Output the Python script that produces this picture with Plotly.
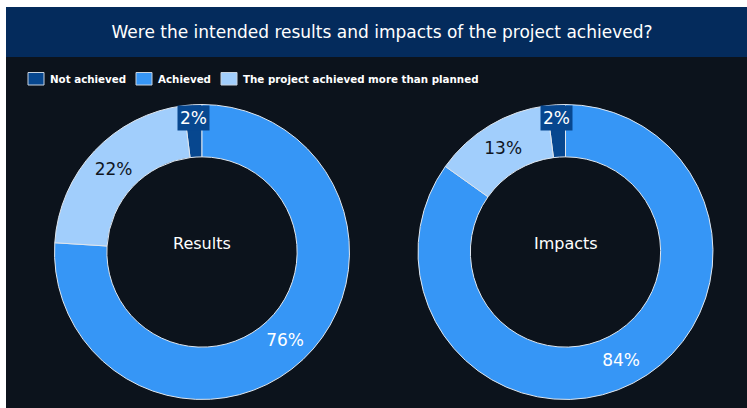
import plotly.graph_objects as go

# ---- data ----
categories = ["Not achieved", "Achieved", "The project achieved more than planned"]
pie_names = ["Results", "Impacts"]
results_values = [2, 76, 22]
impacts_values = [2, 84, 13]
title_text = "Were the intended results and impacts of the project achieved?"

# ---- styling ----
W, H = 747, 408
colors = ["#07478f", "#3696f6", "#a1cefc"]
text_colors = ["#ffffff", "#ffffff", "#10161f"]
header_color = "#042b5c"
panel_color = "#0c131c"
FONT = "DejaVu Sans"


def px(x):
    return x / W


def py(y):
    return 1 - y / H


def pie_domain(cx, cy, r):
    return dict(x=[px(cx - r), px(cx + r)], y=[py(cy + r), py(cy - r)])


centers = [(202, 252), (565.5, 252)]
radius = 147.5

fig = go.Figure()

for name, vals, (cx, cy) in zip(pie_names, [results_values, impacts_values], centers):
    total = sum(vals)
    fig.add_trace(go.Pie(
        labels=categories,
        values=vals,
        name=name,
        sort=False,
        direction="clockwise",
        rotation=-360 * vals[0] / total,
        hole=0.645,
        domain=pie_domain(cx, cy, radius),
        marker=dict(colors=colors, line=dict(color="#dfe6ee", width=1)),
        texttemplate=["", "%{value}%", "%{value}%"],
        textposition="inside",
        insidetextorientation="horizontal",
        textfont=dict(family=FONT, size=17, color=text_colors),
        hoverinfo="label+value",
        showlegend=False,
    ))
    # centre caption
    fig.add_annotation(
        x=px(cx), y=py(243), xref="paper", yref="paper",
        text=name, showarrow=False,
        font=dict(family=FONT, size=16, color="#ffffff"),
        xanchor="center", yanchor="middle",
    )
    # boxed label for the thin "Not achieved" slice
    fig.add_annotation(
        x=px(cx - 9), y=py(118), xref="paper", yref="paper",
        text=f"{vals[0]}%", showarrow=False,
        font=dict(family=FONT, size=17, color="#ffffff"),
        bgcolor=colors[0], borderpad=2,
        xanchor="center", yanchor="middle",
    )

shapes = [
    # dark panel
    dict(type="rect", xref="paper", yref="paper", x0=px(6), x1=1, y0=0, y1=py(7),
         fillcolor=panel_color, line=dict(width=0), layer="below"),
    # header band
    dict(type="rect", xref="paper", yref="paper", x0=px(6), x1=1, y0=py(57), y1=py(7),
         fillcolor=header_color, line=dict(width=0), layer="below"),
]

# legend row
legend_x = [28, 136, 221]
for label, col, lx in zip(categories, colors, legend_x):
    shapes.append(dict(type="rect", xref="paper", yref="paper",
                       x0=px(lx), x1=px(lx + 16), y0=py(85), y1=py(72.5),
                       fillcolor=col, line=dict(color="#c8d3df", width=1), layer="above"))
    fig.add_annotation(
        x=px(lx + 20), y=py(78.5), xref="paper", yref="paper",
        text=f"<b>{label}</b>", showarrow=False,
        font=dict(family=FONT, size=10.3, color="#ffffff"),
        xanchor="left", yanchor="middle",
    )

fig.update_layout(
    width=W, height=H,
    margin=dict(l=0, r=0, t=0, b=0, autoexpand=False),
    paper_bgcolor="#ffffff",
    plot_bgcolor="rgba(0,0,0,0)",
    shapes=shapes,
    showlegend=False,
    title=dict(text=title_text, x=px(382), xanchor="center",
               y=py(32), yanchor="middle", yref="paper",
               font=dict(family=FONT, size=17, color="#ffffff")),
)

fig.write_html("out.html")
